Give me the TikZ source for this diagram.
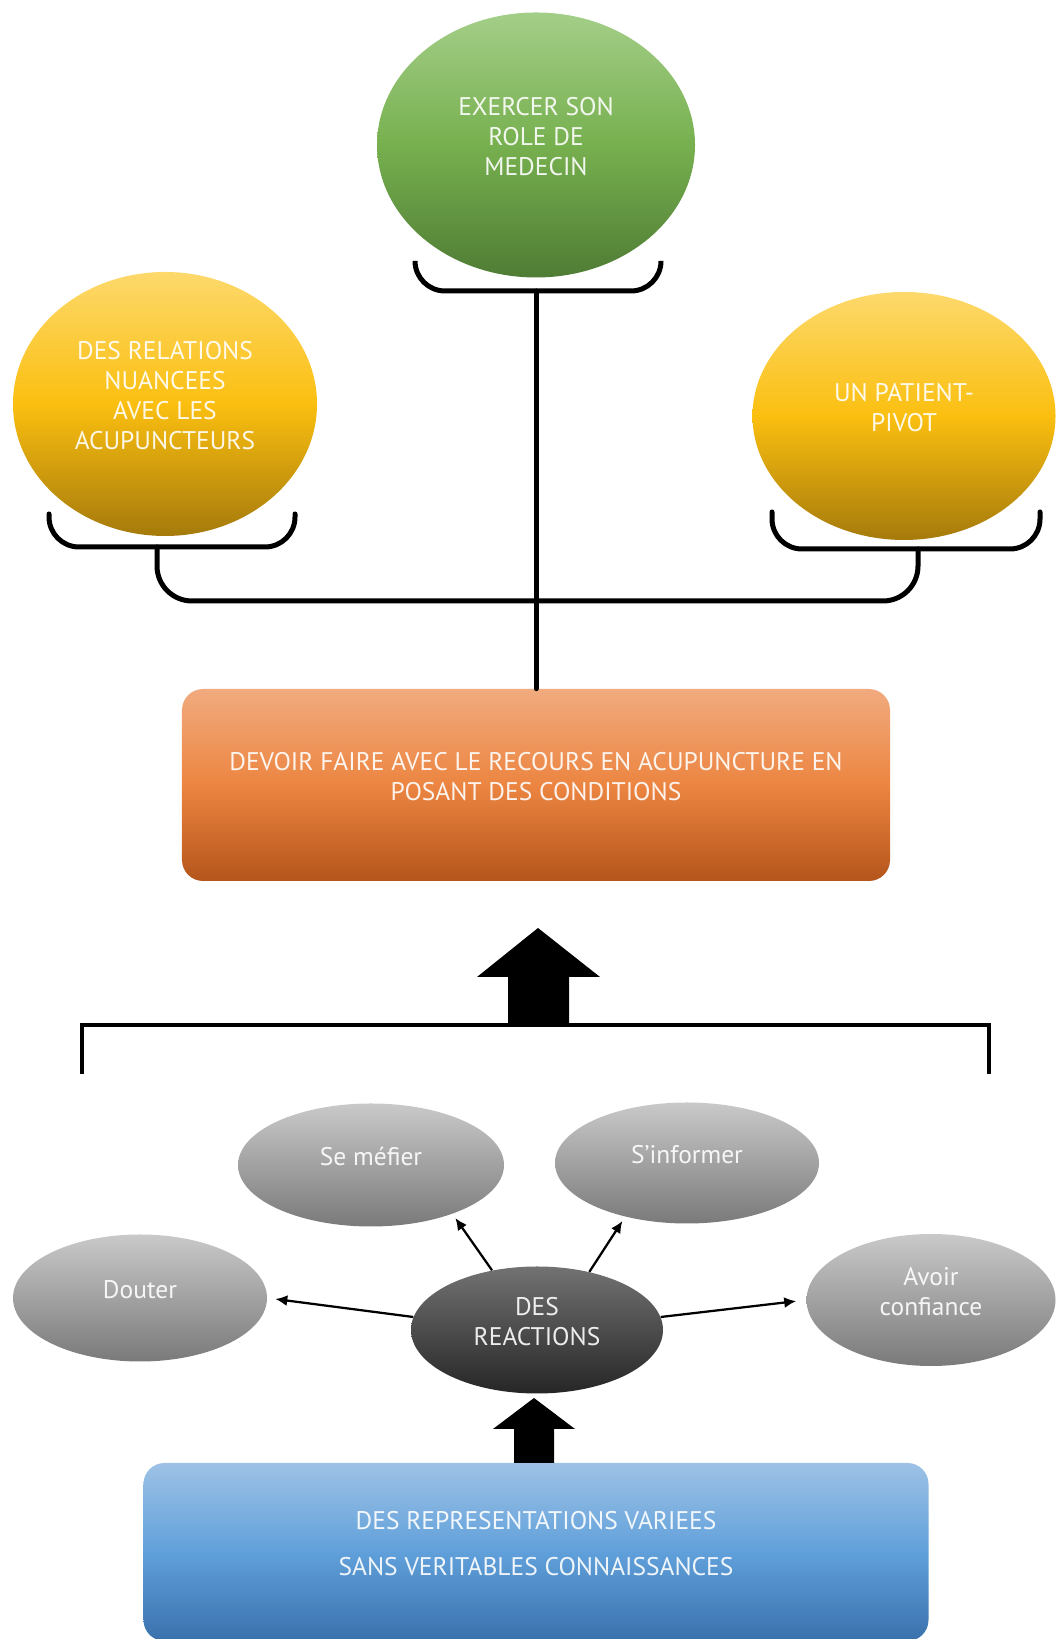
\documentclass[tikz,border=0pt]{standalone}
\usepackage{fontspec}
\setmainfont{PT Sans}
\usetikzlibrary{shapes.geometric,arrows.meta,positioning}

\definecolor{vertH}{HTML}{A4CE88}
\definecolor{vertM}{HTML}{77B04F}
\definecolor{vertB}{HTML}{4F7C34}
\definecolor{jauneH}{HTML}{FDD96C}
\definecolor{jauneM}{HTML}{FBBF10}
\definecolor{jauneB}{HTML}{A57A0B}
\definecolor{orangeH}{HTML}{F1AB7F}
\definecolor{orangeM}{HTML}{EC8541}
\definecolor{orangeB}{HTML}{B5551B}
\definecolor{grisH}{HTML}{C9C9C9}
\definecolor{grisB}{HTML}{7A7A7A}
\definecolor{noirH}{HTML}{727272}
\definecolor{noirB}{HTML}{262626}
\definecolor{bleuH}{HTML}{9EC2E6}
\definecolor{bleuM}{HTML}{60A0DA}
\definecolor{bleuB}{HTML}{3A71AD}

\tikzset{
  texte/.style={text=white,text opacity=0.9,align=center,text depth=3.4mm,font=\fontsize{14.5}{17}\selectfont},
  bulle/.style={ellipse,inner sep=0pt,texte},
  boite/.style={rectangle,rounded corners=4.2mm,inner sep=0pt,texte},
  vert/.style={top color=vertH,bottom color=vertB,middle color=vertM},
  jaune/.style={top color=jauneH,bottom color=jauneB,middle color=jauneM},
  orangee/.style={top color=orangeH,bottom color=orangeB,middle color=orangeM},
  gris/.style={top color=grisH,bottom color=grisB},
  sombre/.style={top color=noirH,bottom color=noirB},
  bleu/.style={top color=bleuH,bottom color=bleuB,middle color=bleuM},
  crochet/.style={line width=1mm,line cap=round},
  fleche/.style={line width=0.45mm,-{Latex[length=2.4mm,width=2.2mm]}}
}

\begin{document}
\begin{tikzpicture}[x=0.2mm,y=0.2mm]
  \useasboundingbox (0,0) rectangle (1056,1639);

  % les bulles du haut
  \node[bulle,vert,minimum width=63.6mm,minimum height=53mm] (medecin) at (536,1494) {EXERCER SON\\ROLE DE\\MEDECIN};
  \node[bulle,jaune,minimum width=60.8mm,minimum height=52.8mm] (relations) at (165,1235) {DES RELATIONS\\NUANCEES\\AVEC LES\\ACUPUNCTEURS};
  \node[bulle,jaune,minimum width=60.6mm,minimum height=49.6mm] (pivot) at (904,1223) {UN PATIENT-\\PIVOT};

  % les crochets
  \coordinate (tige) at (536,1348);
  \draw[crochet,rounded corners=6mm] (415,1378) -- (415,1348) -- (661,1348) -- (661,1378);
  \draw[crochet,rounded corners=6mm] (49,1125) -- (49,1092) -- (295,1092) -- (295,1125);
  \draw[crochet,rounded corners=6mm] (772,1127) -- (772,1090) -- (1040,1090) -- (1040,1127);
  \draw[crochet,rounded corners=7mm] (157,1092) -- (157,1038) -- (918,1038) -- (918,1090);

  \node[boite,orangee,minimum width=141.6mm,minimum height=38.4mm] (devoir) at (536,854) {DEVOIR FAIRE AVEC LE RECOURS EN ACUPUNCTURE EN\\POSANT DES CONDITIONS};
  \draw[crochet] (tige) -- (devoir.north);

  % grosse fleche et accolade
  \coordinate (pointeA) at (538,711);
  \fill (pointeA) --++(62,-49) --++(-31,0) --++(0,-48) --++(-61,0) --++(0,48) --++(-31,0) -- cycle;
  \draw[line width=0.9mm] (82,565) -- (82,614) -- (989,614) -- (989,565);

  % les reactions
  \node[bulle,sombre,minimum width=50.4mm,minimum height=25.4mm] (reactions) at (537,309) {DES\\REACTIONS};
  \node[bulle,gris,minimum width=53.2mm,minimum height=24.6mm] (mefier) at (371,474) {Se méfier};
  \node[bulle,gris,minimum width=52.8mm,minimum height=24.2mm] (informer) at (687,476) {S’informer};
  \node[bulle,gris,minimum width=50.8mm,minimum height=25.4mm] (douter) at (140,341) {Douter};
  \node[bulle,gris,minimum width=49.8mm,minimum height=26.4mm] (confiance) at (931,339) {Avoir\\confiance};

  \draw[fleche,shorten >=1mm] (reactions.127) -- (mefier.329);
  \draw[fleche,shorten >=1mm] (reactions.48) -- (informer.221);
  \draw[fleche,shorten >=1.6mm] (reactions.174) -- (douter.east);
  \draw[fleche,shorten >=2mm] (reactions.6) -- (confiance.west);

  \node[boite,bleu,minimum width=157mm,minimum height=35.6mm] (representations) at (536,87) {DES REPRESENTATIONS VARIEES\\[9.5pt]SANS VERITABLES CONNAISSANCES};
  \coordinate (pointeB) at (534,241);
  \fill (pointeB) --++(41,-31) --++(-21,0) --++(0,-34) --++(-40,0) --++(0,34) --++(-21,0) -- cycle;
\end{tikzpicture}
\end{document}
